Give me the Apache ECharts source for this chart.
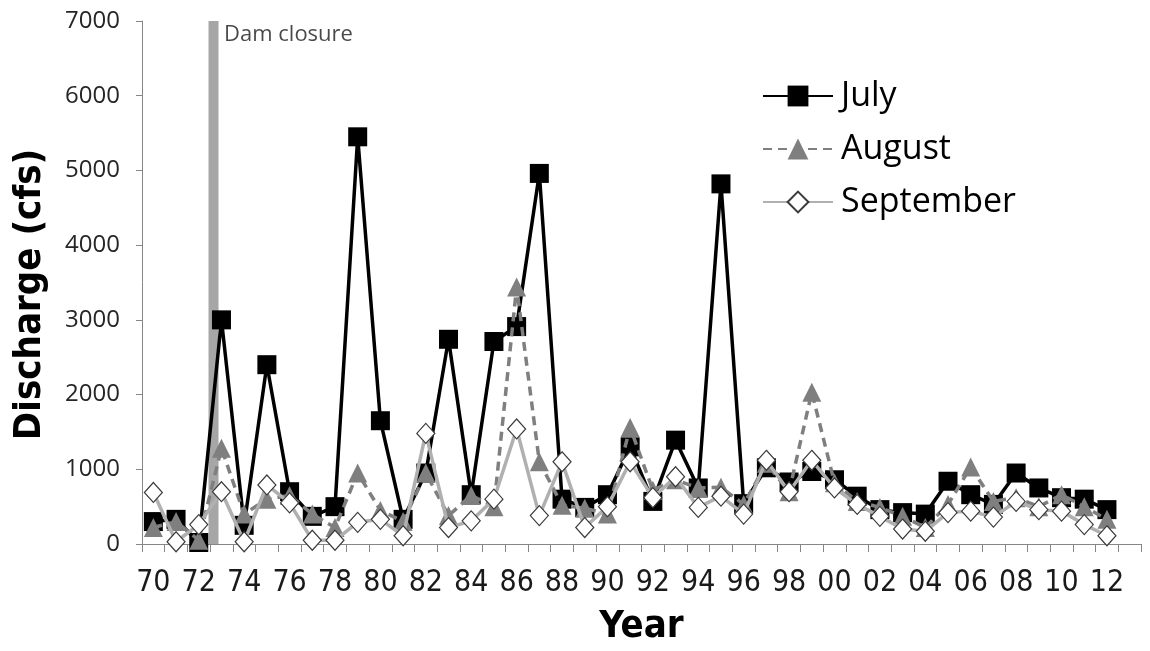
<!DOCTYPE html>
<html>
<head>
<meta charset="utf-8">
<script src="https://cdn.jsdelivr.net/npm/echarts@6/dist/echarts.min.js"></script>
<style>
html,body{margin:0;padding:0;background:#fff;}
#chart{width:1150px;height:651px;}
</style>
</head>
<body>
<div id="chart"></div>
<script>
// ---- data ----
var years = [1970,1971,1972,1973,1974,1975,1976,1977,1978,1979,1980,1981,1982,1983,1984,1985,1986,1987,1988,1989,
             1990,1991,1992,1993,1994,1995,1996,1997,1998,1999,2000,2001,2002,2003,2004,2005,2006,2007,2008,2009,
             2010,2011,2012,2013];
var july = [300,330,20,3000,250,2400,700,370,500,5450,1650,330,950,2740,660,2710,2910,4960,600,490,
            660,1300,570,1390,750,4820,540,1020,830,970,860,640,460,420,400,840,660,530,950,750,
            620,600,460,null];
var august = [220,300,50,1280,400,600,650,400,220,950,450,300,950,380,650,500,3440,1100,520,480,
              400,1560,720,860,750,760,530,1080,700,2030,820,570,490,370,220,530,1030,570,620,500,
              660,500,330,null];
var september = [690,30,260,700,30,790,550,50,50,290,330,110,1480,220,310,600,1540,380,1100,220,
                 500,1100,620,900,490,640,400,1120,700,1120,750,530,370,200,170,420,440,360,570,460,
                 440,260,110,null];
var yTicks = [0,1000,2000,3000,4000,5000,6000,7000];
var damYear = 1972.65;
var damLabel = 'Dam closure';
var seriesNames = ['July','August','September'];

var chart = echarts.init(document.getElementById('chart'), null, {renderer:'canvas'});
var narrow = "'Liberation Sans Narrow','DejaVu Sans Condensed','Liberation Sans',sans-serif";
var option = {
  animation: false,
  backgroundColor: '#ffffff',
  grid: {left: 142, right: 9, top: 21, bottom: 100, containLabel: false},
  legend: {
    orient: 'vertical', left: 762, top: 79, padding: 0,
    itemWidth: 70, itemHeight: 26, itemGap: 19,
    data: seriesNames,
    textStyle: {fontFamily: "'Open Sans',sans-serif", fontSize: 34, color: '#000', lineHeight: 34, padding: [0,0,0,3]}
  },
  xAxis: [{
    type: 'category',
    data: years,
    boundaryGap: true,
    axisLine: {lineStyle: {color: '#868686', width: 1}},
    axisTick: {show: true, interval: 0, alignWithLabel: false, length: 8, lineStyle: {color: '#868686'}},
    axisLabel: {
      interval: 1, margin: 24, color: '#1a1a1a', fontSize: 30, fontFamily: narrow,
      formatter: function (v) { return String(v).slice(2); }
    },
    name: 'Year', nameLocation: 'middle', nameGap: 64,
    nameTextStyle: {fontFamily: narrow, fontWeight: 'bold', fontSize: 38, color: '#000'},
    splitLine: {show: false}
  }, {
    type: 'value', min: 1969.5, max: 2013.5, show: false
  }],
  yAxis: {
    type: 'value', min: 0, max: 7000, interval: 1000,
    axisLine: {show: true, lineStyle: {color: '#868686', width: 1}},
    axisTick: {show: true, length: 6, lineStyle: {color: '#868686'}},
    axisLabel: {margin: 22, color: '#262626', fontSize: 24, fontFamily: "'Open Sans',sans-serif",
      formatter: function (v) { return String(v); }},
    splitLine: {show: false},
    name: 'Discharge (cfs)', nameLocation: 'middle', nameGap: 93,
    nameTextStyle: {fontFamily: narrow, fontWeight: 'bold', fontSize: 38, color: '#000', padding: [0, 24, 0, 0]}
  },
  series: [
    {
      name: 'Dam closure', type: 'line', xAxisIndex: 1,
      data: [[damYear, 0], [damYear, 7000]],
      symbol: 'none', lineStyle: {color: '#a6a6a6', width: 10}, z: 1, silent: true
    },
    {
      name: 'damLabel', type: 'scatter', xAxisIndex: 1,
      data: [[damYear, 7000]], symbolSize: 1, itemStyle: {color: 'rgba(0,0,0,0)'},
      label: {show: true, position: 'right', offset: [5, 14], formatter: damLabel,
        fontFamily: "'Open Sans',sans-serif", fontSize: 22, color: '#1a1a1a'}, z: 1, silent: true
    },
    {
      name: 'July', type: 'line', data: july, showAllSymbol: true,
      symbol: 'rect', symbolSize: 19,
      lineStyle: {color: '#000', width: 3.5}, itemStyle: {color: '#000'}, z: 3
    },
    {
      name: 'August', type: 'line', data: august, showAllSymbol: true,
      symbol: 'triangle', symbolSize: 19,
      lineStyle: {color: '#7f7f7f', width: 3.5, type: [9, 6]}, itemStyle: {color: '#7f7f7f'}, z: 4
    },
    {
      name: 'September', type: 'line', data: september, showAllSymbol: true,
      symbol: 'diamond', symbolSize: [18, 20],
      lineStyle: {color: '#b0b0b0', width: 3.5},
      itemStyle: {color: '#ffffff', borderColor: '#3a3a3a', borderWidth: 1.2}, z: 5
    }
  ]
};
chart.setOption(option);
</script>
</body>
</html>
